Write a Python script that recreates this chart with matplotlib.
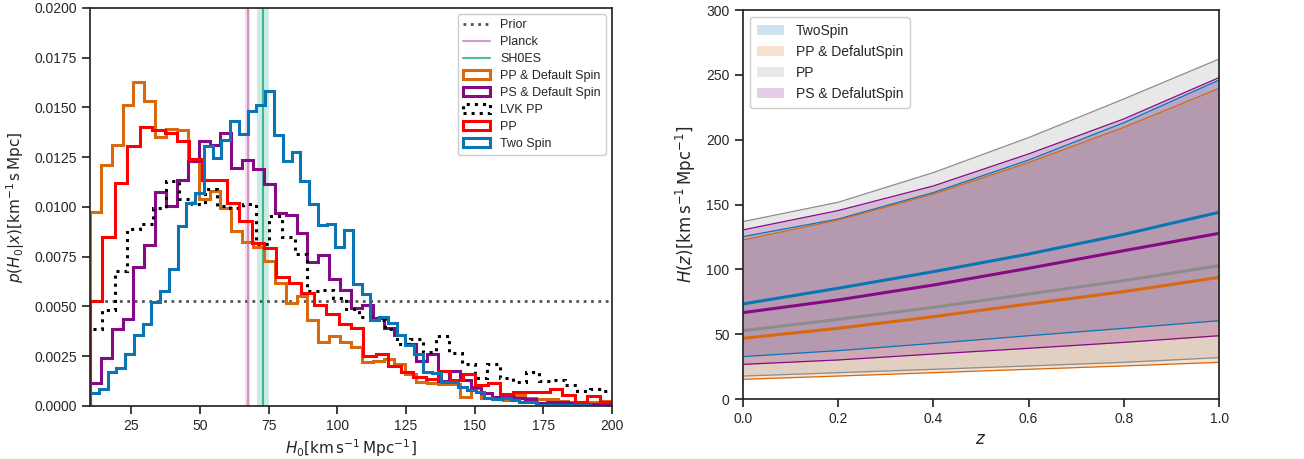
import numpy as np
import matplotlib
matplotlib.use("Agg")
import matplotlib.pyplot as plt
import seaborn as sns

sns.set_style("ticks")
plt.rcParams["font.family"] = ["Liberation Sans", "DejaVu Sans"]
plt.rcParams["mathtext.fontset"] = "dejavusans"
plt.rcParams["axes.edgecolor"] = "#262626"
plt.rcParams["text.color"] = "#262626"

# ---------------- left panel data: H0 posteriors (bin heights) ----------------
pp_default_spin = [0.00977, 0.0121, 0.0131, 0.0151, 0.01627, 0.01535, 0.01352, 0.01393,
                   0.01388, 0.0123, 0.01038, 0.0108, 0.00997, 0.0088, 0.00822, 0.00797,
                   0.00727, 0.00617, 0.00517, 0.00555, 0.00433, 0.00322, 0.0035, 0.0032,
                   0.00297, 0.0022, 0.00228, 0.00238, 0.0021, 0.0016, 0.00122, 0.00117,
                   0.0011, 0.0011, 0.00043, 0.00088, 0.00038, 0.00035, 0.0003, 0.00055,
                   0.0004, 0.00033, 0.00033, 0.00025, 0.0002, 0.0002, 0.0002, 0.00025]
ps_default_spin = [0.00113, 0.00243, 0.00388, 0.00438, 0.00697, 0.0081, 0.01075, 0.01005,
                   0.01138, 0.01233, 0.0133, 0.01313, 0.01372, 0.01197, 0.01238, 0.01193,
                   0.01113, 0.00972, 0.0096, 0.00867, 0.00725, 0.0076, 0.0064, 0.00583,
                   0.00493, 0.00505, 0.00443, 0.00393, 0.00355, 0.0031, 0.00227, 0.0026,
                   0.00125, 0.00177, 0.00133, 0.00093, 0.00063, 0.00043, 0.00045, 0.00038,
                   0.00033, 0.00017, 0.0002, 0.0002, 0.00015, 0.0001, 0.0001, 0.0001]
lvk_pp = [0.00388, 0.0048, 0.00677, 0.00888, 0.00913, 0.00997, 0.0113, 0.0104,
          0.01013, 0.01088, 0.01003, 0.00993, 0.01017, 0.00815, 0.00955, 0.00847,
          0.00763, 0.0058, 0.00583, 0.00545, 0.00485, 0.00447, 0.0043, 0.00388,
          0.0031, 0.00338, 0.00272, 0.0035, 0.00265, 0.0021, 0.00143, 0.0021,
          0.0014, 0.00122, 0.00172, 0.00127, 0.0013, 0.00107, 0.00077, 0.00087, 0.00073]
pp = [0.0053, 0.0085, 0.01122, 0.01305, 0.01402, 0.01385, 0.01372, 0.0133,
      0.01242, 0.01138, 0.01138, 0.01022, 0.0093, 0.00817, 0.00793, 0.00647,
      0.0062, 0.00568, 0.00505, 0.0046, 0.0041, 0.0039, 0.0025, 0.0026,
      0.002, 0.00172, 0.00145, 0.00138, 0.00175, 0.0013, 0.0016, 0.00105,
      0.00113, 0.0006, 0.00072, 0.00068, 0.00068, 0.00083, 0.00055, 0.00022,
      0.0005, 0.00022]
two_spin = [0.00067, 0.00083, 0.00172, 0.00193, 0.00263, 0.00355, 0.0041, 0.00522,
            0.0058, 0.00688, 0.00905, 0.01022, 0.01072, 0.01305, 0.01247, 0.01338,
            0.01433, 0.01367, 0.0148, 0.01513, 0.01583, 0.01363, 0.0123, 0.01277,
            0.01133, 0.01013, 0.0091, 0.00913, 0.008, 0.00883, 0.00613, 0.00563,
            0.00433, 0.00447, 0.00417, 0.00355, 0.00305, 0.0026, 0.00172, 0.00167,
            0.00122, 0.00122, 0.00097, 0.0008, 0.00072, 0.00038, 0.00033, 0.00038,
            0.0003, 0.00022, 0.00022, 0.00005, 0.00005, 0.00003, 0.00003, 0.00003,
            0.00003, 0.00002, 0.00002, 0.00002]

h0_min, h0_max = 10, 200
lvk_start, lvk_width = 9.57, 4.68
two_spin_width = 3.19

planck_h0, planck_band = 67.4, 1.0
shoes_h0, shoes_band = 73.04, 2.1

# ---------------- right panel data: H(z) bands ----------------
z_grid = [0.0, 0.2, 0.4, 0.6, 0.8, 1.0]
twospin_lo = [32.7, 37.3, 42.9, 48.8, 54.5, 60.4]
twospin_med = [73.3, 85.4, 98.2, 111.8, 127.0, 144.0]
twospin_hi = [125.2, 138.8, 159.2, 184.3, 213.1, 246.0]
ppdef_lo = [15.2, 17.7, 20.3, 22.9, 25.5, 28.3]
ppdef_med = [46.8, 54.5, 63.5, 73.3, 82.8, 93.8]
ppdef_hi = [122.6, 138.0, 158.0, 182.3, 209.5, 239.6]
pp_lo = [17.7, 20.3, 22.9, 25.5, 28.3, 31.9]
pp_med = [52.7, 61.4, 70.7, 81.0, 91.3, 102.8]
pp_hi = [136.8, 151.7, 174.6, 201.6, 231.4, 262.2]
ps_lo = [26.7, 30.1, 34.7, 39.1, 43.7, 48.8]
ps_med = [66.6, 76.4, 87.9, 100.8, 114.4, 127.8]
ps_hi = [130.4, 145.3, 164.3, 189.0, 216.0, 247.9]

# ---------------- colours ----------------
c_orange = "#d8690f"
c_purple = "#860a86"
c_red = "#ff0000"
c_blue = "#0a75b5"
c_black = "#000000"
c_planck = "#cc78bc"
c_shoes = "#029e73"
c_gray = "#8c8c8c"

fig = plt.figure(figsize=(13.04, 4.59), dpi=100)
ax1 = fig.add_axes([0.0690, 0.1155, 0.4003, 0.8671])
ax2 = fig.add_axes([0.5696, 0.1307, 0.3653, 0.8475])

# ---- left panel ----
ax1.hlines(1.0 / (h0_max - h0_min), h0_min, h0_max, colors="#555555",
           linestyles=":", lw=2.0, label="Prior")
ax1.axvspan(planck_h0 - planck_band, planck_h0 + planck_band, color=c_planck, alpha=0.25, lw=0)
ax1.axvline(planck_h0, color=c_planck, alpha=0.75, lw=1.5, label="Planck")
ax1.axvspan(shoes_h0 - shoes_band, shoes_h0 + shoes_band, color=c_shoes, alpha=0.2, lw=0)
ax1.axvline(shoes_h0, color=c_shoes, alpha=0.7, lw=1.5, label="SH0ES")

def draw_hist(ax, vals, edges, color, label, ls="-"):
    vals = np.asarray(vals)
    ax.hist(edges[:-1], bins=edges, weights=vals, histtype="step",
            color=color, lw=2.2, ls=ls, label=label)

e48 = np.linspace(h0_min, h0_max, len(pp_default_spin) + 1)
e42 = np.linspace(h0_min, h0_max, len(pp) + 1)
e_lvk = lvk_start + lvk_width * np.arange(len(lvk_pp) + 1)
e_two = h0_min + two_spin_width * np.arange(len(two_spin) + 1)

draw_hist(ax1, pp_default_spin, e48, c_orange, "PP & Default Spin")
draw_hist(ax1, ps_default_spin, e48, c_purple, "PS & Default Spin")
draw_hist(ax1, lvk_pp, e_lvk, c_black, "LVK PP", ls=":")
draw_hist(ax1, pp, e42, c_red, "PP")
draw_hist(ax1, two_spin, e_two, c_blue, "Two Spin")

ax1.set_xlim(h0_min, h0_max)
ax1.set_ylim(0, 0.02)
ax1.set_xticks([25, 50, 75, 100, 125, 150, 175, 200])
ax1.set_yticks(np.arange(0, 0.02001, 0.0025))
ax1.yaxis.set_major_formatter(matplotlib.ticker.FormatStrFormatter("%.4f"))
ax1.set_xlabel(r"$H_0[\mathrm{km\,s^{-1}\,Mpc^{-1}}]$", fontsize=11, labelpad=3)
ax1.set_ylabel(r"$p(H_0|x)[\mathrm{km^{-1}\,s\,Mpc}]$", fontsize=11, labelpad=5)
ax1.legend(loc="upper right", fontsize=9, labelspacing=0.4, handlelength=2.2,
           borderpad=0.4, framealpha=1)

# ---- right panel ----
bands = [
    ("TwoSpin", twospin_lo, twospin_med, twospin_hi, c_blue),
    ("PP & DefalutSpin", ppdef_lo, ppdef_med, ppdef_hi, c_orange),
    ("PP", pp_lo, pp_med, pp_hi, c_gray),
    ("PS & DefalutSpin", ps_lo, ps_med, ps_hi, c_purple),
]
for name, lo, med, hi, c in bands:
    ax2.fill_between(z_grid, lo, hi, color=c, alpha=0.2, lw=0, label=name)
for name, lo, med, hi, c in bands:
    ax2.plot(z_grid, lo, color=c, lw=0.9)
    ax2.plot(z_grid, hi, color=c, lw=0.9)
for name, lo, med, hi, c in bands:
    ax2.plot(z_grid, med, color=c, lw=2.2)

ax2.set_xlim(0, 1)
ax2.set_ylim(0, 300)
ax2.set_xticks([0.0, 0.2, 0.4, 0.6, 0.8, 1.0])
ax2.set_yticks([0, 50, 100, 150, 200, 250, 300])
ax2.set_xlabel(r"$z$", fontsize=12, labelpad=4)
ax2.set_ylabel(r"$H(z)[\mathrm{km\,s^{-1}\,Mpc^{-1}}]$", fontsize=12, labelpad=6)
ax2.legend(loc="upper left", fontsize=10, framealpha=1, borderpad=0.5, labelspacing=0.5)

for ax in (ax1, ax2):
    ax.tick_params(labelsize=10, length=6, width=1.25, direction="out",
                   color="#262626")
    for s in ax.spines.values():
        s.set_linewidth(1.25)

fig.savefig("out.png", dpi=100)
